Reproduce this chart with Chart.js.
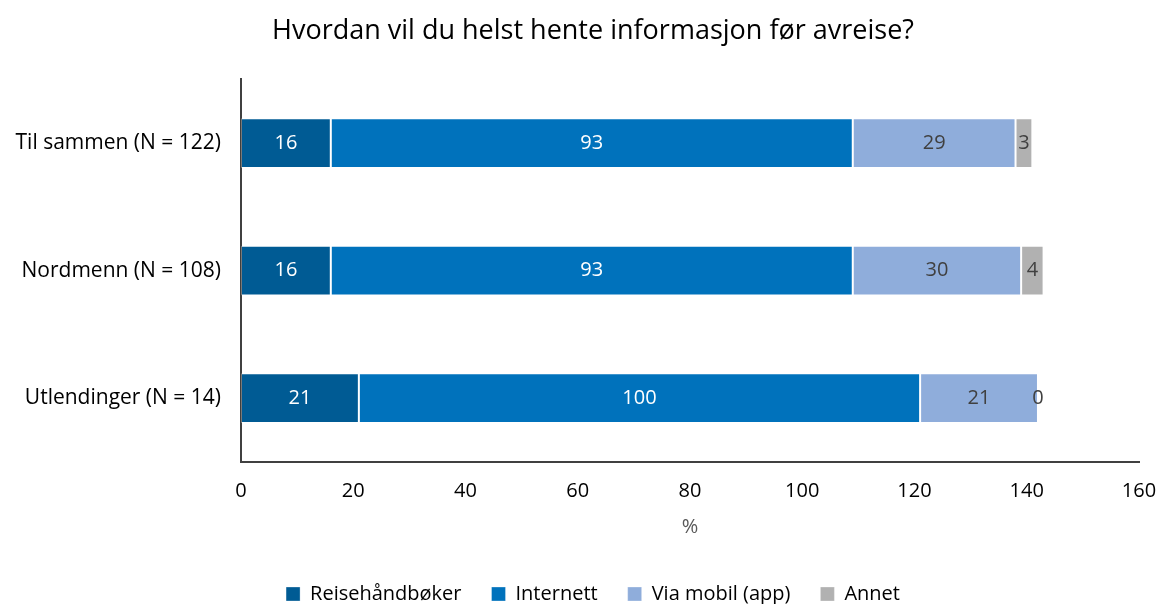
<!DOCTYPE html>
<html>
<head>
<meta charset="utf-8">
<script src="https://cdn.jsdelivr.net/npm/chart.js@4/dist/chart.umd.min.js"></script>
<style>
  html, body { margin: 0; padding: 0; background: #ffffff; }
  #wrap { width: 1163px; height: 604px; }
</style>
</head>
<body>
<div id="wrap"><canvas id="c" width="1163" height="604"></canvas></div>
<script>
// Survey groups (y axis categories)
const categories = ['Til sammen (N = 122)', 'Nordmenn (N = 108)', 'Utlendinger (N = 14)'];

// Share of respondents (%) per source; multiple answers allowed
const reisehandboker = [16, 16, 21];
const internett      = [93, 93, 100];
const viaMobil       = [29, 30, 21];
const annet          = [3, 4, 0];

const xTicks = [0, 20, 40, 60, 80, 100, 120, 140, 160];

const FONT = "'Open Sans', Lato, sans-serif";

// Writes each segment's value in the middle of its bar
const valueLabels = {
  id: 'valueLabels',
  afterDatasetsDraw(chart) {
    const ctx = chart.ctx;
    ctx.save();
    ctx.font = '20px ' + FONT;
    ctx.textAlign = 'center';
    ctx.textBaseline = 'middle';
    chart.data.datasets.forEach((ds, i) => {
      const meta = chart.getDatasetMeta(i);
      if (meta.hidden) return;
      meta.data.forEach((el, j) => {
        const p = el.getCenterPoint();
        ctx.fillStyle = ds.labelColor;
        ctx.fillText(String(ds.data[j]), p.x, p.y);
      });
    });
    ctx.restore();
  }
};

// Let the category labels use the margin to the left of the y axis box
const widenLabelArea = {
  id: 'widenLabelArea',
  afterLayout(chart) { chart.scales.y.left = 0; }
};

const segBorder = 'rgba(255,255,255,0.3)';

new Chart(document.getElementById('c'), {
  type: 'bar',
  data: {
    labels: categories,
    datasets: [
      { label: 'Reisehåndbøker', data: reisehandboker, backgroundColor: '#005B94', labelColor: '#ffffff' },
      { label: 'Internett', data: internett, backgroundColor: '#0072BC', labelColor: '#ffffff' },
      { label: 'Via mobil (app)', data: viaMobil, backgroundColor: '#8FADDB', labelColor: '#404040' },
      { label: 'Annet', data: annet, backgroundColor: '#B1B1B1', labelColor: '#404040' }
    ].map(d => Object.assign(d, {
      borderColor: segBorder,
      borderWidth: 1,
      borderSkipped: false,
      categoryPercentage: 1.0,
      barPercentage: 0.39
    }))
  },
  options: {
    indexAxis: 'y',
    responsive: false,
    animation: false,
    layout: { padding: { left: 47, right: 24, top: 0, bottom: -10 } },
    plugins: {
      title: {
        display: true,
        text: 'Hvordan vil du helst hente informasjon før avreise?',
        color: '#000000',
        font: { family: FONT, size: 27, weight: 'normal' },
        padding: { top: 15, bottom: 32 }
      },
      legend: {
        position: 'bottom',
        labels: {
          color: '#000000',
          font: { family: FONT, size: 20 },
          boxWidth: 14,
          boxHeight: 14,
          padding: 30
        }
      },
      tooltip: { enabled: false }
    },
    scales: {
      x: {
        stacked: true,
        min: 0,
        max: 160,
        afterBuildTicks(scale) { scale.ticks = xTicks.map(v => ({ value: v })); },
        grid: { display: false, drawTicks: false },
        border: { display: true, color: '#404040', width: 2 },
        ticks: { color: '#000000', font: { family: FONT, size: 20 }, padding: 17 },
        title: {
          display: true,
          text: '%',
          color: '#595959',
          font: { family: FONT, size: 20 },
          padding: { top: 4, bottom: 15 }
        },
        afterFit(scale) {
          scale.height = 92;
          scale.paddingLeft = 0;
          scale.paddingRight = 0;
        }
      },
      y: {
        stacked: true,
        grid: { display: false, drawTicks: false },
        border: { display: true, color: '#404040', width: 2 },
        ticks: { color: '#000000', font: { family: FONT, size: 21 }, padding: 20 },
        afterFit(scale) { scale.width = 194; }
      }
    }
  },
  plugins: [valueLabels, widenLabelArea]
});
</script>
</body>
</html>
